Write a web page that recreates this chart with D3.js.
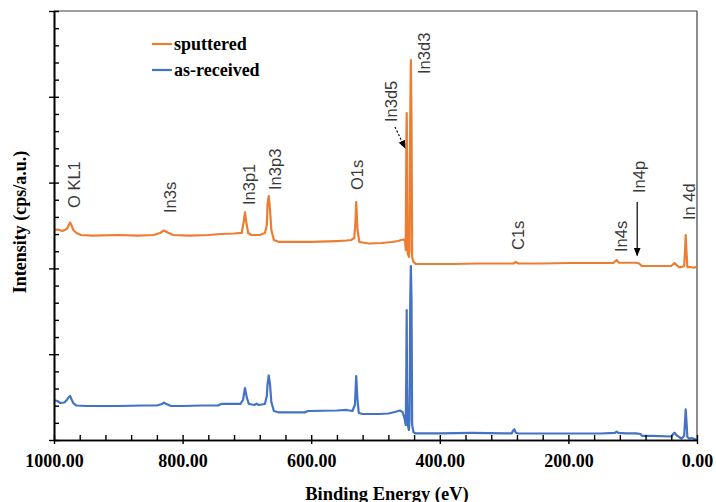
<!DOCTYPE html>
<html><head><meta charset="utf-8">
<script src="https://cdn.jsdelivr.net/npm/d3@7"></script>
<style>body{margin:0;background:#fff}svg{display:block}</style>
</head><body><svg id="c" width="716" height="502"></svg>
<script>
// ---- data (binding energy eV, intensity cps a.u.) ----
const sputtered = [
 [1000,2448],[994,2453],[987,2436],[980,2459],[977,2506],[975,2535],[973,2506],[970,2448],[965,2413],[958,2389],
 [940,2383],[900,2389],[870,2383],[845,2389],[835,2413],[829,2442],[823,2418],[815,2389],[790,2383],[760,2389],
 [740,2401],[720,2407],[708,2413],[705,2541],[703,2652],[701,2541],[698,2413],[693,2389],[680,2389],[672,2413],
 [669,2506],[668,2739],[666,2844],[664,2681],[662,2448],[658,2331],[650,2308],[600,2308],[560,2319],[545,2325],
 [538,2331],[533,2354],[531,2564],[530,2774],[528,2448],[525,2308],[510,2290],[490,2296],[475,2308],[465,2319],
 [460,2331],[456,2337],[454,2319],[453,2214],[452,3497],[451.5,3811],[451,3497],[450,2179],[448,2133],[447,2214],
 [446,3730],[445,4429],[444,3730],[443,2133],[441,2075],[437,2051],[420,2051],[380,2051],[340,2057],[300,2057],
 [285,2057],[282,2075],[278,2057],[240,2057],[200,2063],[160,2063],[130,2063],[125,2098],[122,2066],[110,2066],
 [95,2066],[90,2057],[86,2028],[70,2028],[40,2028],[35,2063],[32,2040],[28,2016],[24,2016],[20,2028],
 [18.5,2214],[17.6,2389],[16.5,2214],[15,2016],[10,2016],[5,2008],[2,2016],[0,2020]
];
const asReceived = [
 [1000,466],[995,455],[990,431],[984,437],[980,466],[977,501],[975,513],[973,478],[970,431],[965,402],
 [950,396],[900,396],[860,402],[840,402],[832,420],[829,435],[825,420],[818,396],[800,396],[770,402],
 [745,402],[740,420],[710,420],[706,466],[703,606],[700,490],[697,420],[688,408],[685,425],[682,408],
 [672,420],[669,513],[668,641],[666,752],[664,641],[662,443],[658,338],[650,321],[610,321],[605,338],
 [560,344],[545,350],[536,338],[532,408],[530,746],[528,466],[526,315],[520,303],[495,303],[480,309],
 [470,326],[462,344],[458,326],[455,256],[453,175],[452.2,699],[451.5,1515],[451,699],[450,175],[448,117],
 [447,233],[446,1632],[445,2028],[444,1632],[443,175],[441,93],[438,78],[400,78],[350,82],[300,78],
 [288,78],[286,111],[284,125],[282,87],[278,76],[200,76],[150,76],[128,82],[125,97],[122,82],
 [110,78],[95,78],[88,70],[85,47],[70,47],[40,41],[37,70],[35,85],[32,58],[28,35],
 [24,17],[20,47],[18.5,233],[17.6,358],[16.5,233],[15,35],[12,17],[8,23],[4,12],[0,0]
];
const seriesNames = ["sputtered", "as-received"];
const seriesColors = ["#ED7D31", "#4472C4"];
const xMajorTicks = [1000, 800, 600, 400, 200, 0];
const xMinorStep = 40;
const yMajorTicks = [0, 1000, 2000, 3000, 4000, 5000];
const yMinorStep = 200;
const peakLabels = ["O KL1", "In3s", "In3p1", "In3p3", "O1s", "In3d5", "In3d3", "C1s", "In4s", "In4p", "In 4d"];
const peakLabelEnergy = [969, 820, 696, 656, 528, 475, 425, 278, 118, 90, 12];
const peakLabelLevel = [2704, 2646, 2739, 2914, 2914, 3706, 4266, 2214, 2191, 2879, 2564];
const arrows = [ {from:[469.7,3648], to:[454,3403], dashed:true}, {from:[93,2774], to:[93,2150], dashed:false} ];
const xTitle = "Binding Energy (eV)";
const yTitle = "Intensity (cps/a.u.)";

// ---- layout ----
const svg = d3.select("#c");
const x = d3.scaleLinear().domain([1000, 0]).range([54, 697]);
const y = d3.scaleLinear().domain([0, 5000]).range([440, 11]);
const serif = "'Liberation Serif','Times New Roman',serif";
const sans = "'Liberation Sans',Arial,sans-serif";

// frame (top, right)
svg.append("line").attr("x1", x(1000)).attr("x2", x(0)).attr("y1", y(5000)).attr("y2", y(5000))
  .attr("stroke", "#404040").attr("stroke-width", 1.2);
svg.append("line").attr("x1", x(0)).attr("x2", x(0)).attr("y1", y(5000)).attr("y2", y(0))
  .attr("stroke", "#404040").attr("stroke-width", 1.2);

// series
const line = d3.line().x(d => x(d[0])).y(d => y(d[1]));
[asReceived, sputtered].forEach((data, i) => {
  const c = i === 0 ? seriesColors[1] : seriesColors[0];
  svg.append("path").datum(data).attr("d", line).attr("fill", "none")
    .attr("stroke", c).attr("stroke-width", 2.2).attr("stroke-linejoin", "round");
});

// axes
const xMinor = d3.range(0, 1000 + 1, xMinorStep);
const yMinor = d3.range(0, 5000 + 1, yMinorStep);
const gx = svg.append("g").attr("transform", `translate(0,${y(0)})`);
gx.append("g").call(d3.axisBottom(x).tickValues(xMinor).tickSize(-5).tickSizeOuter(0).tickFormat(""));
gx.append("g").call(d3.axisBottom(x).tickValues(xMajorTicks).tickSize(4).tickSizeOuter(0).tickPadding(10)
  .tickFormat(d3.format(".2f")));
const gy = svg.append("g").attr("transform", `translate(${x(1000)},0)`);
gy.append("g").call(d3.axisLeft(y).tickValues(yMinor).tickSize(-5).tickSizeOuter(0).tickFormat(""));
gy.append("g").call(d3.axisLeft(y).tickValues(yMajorTicks).tickSize(5).tickSizeOuter(0).tickFormat(""));
svg.selectAll(".domain").attr("stroke", "#000").attr("stroke-width", 1.6);
svg.selectAll(".tick line").attr("stroke", "#000").attr("stroke-width", 1.4);
gx.selectAll(".tick text").attr("font-family", serif).attr("font-weight", "bold")
  .attr("font-size", 18).attr("fill", "#000");

// axis titles
svg.append("text").attr("x", 387).attr("y", 500).attr("text-anchor", "middle")
  .attr("font-family", serif).attr("font-weight", "bold").attr("font-size", 18.5).text(xTitle);
svg.append("text").attr("transform", "translate(20,222) rotate(-90)").attr("text-anchor", "middle")
  .attr("dy", "0.35em").attr("font-family", serif).attr("font-weight", "bold").attr("font-size", 18).text(yTitle);

// peak labels
peakLabels.forEach((t, i) => {
  svg.append("text").attr("transform", `translate(${x(peakLabelEnergy[i])},${y(peakLabelLevel[i])}) rotate(-90)`)
    .attr("dy", "0.35em").attr("font-family", sans).attr("font-size", 16.5).attr("fill", "#3a3a3a").text(t);
});

// arrows
const defs = svg.append("defs");
defs.append("marker").attr("id", "ah").attr("viewBox", "0 0 10 10").attr("refX", 9).attr("refY", 5)
  .attr("markerWidth", 7).attr("markerHeight", 7).attr("orient", "auto")
  .append("path").attr("d", "M0,1L10,5L0,9Z").attr("fill", "#000");
arrows.forEach(a => {
  svg.append("line").attr("x1", x(a.from[0])).attr("y1", y(a.from[1])).attr("x2", x(a.to[0])).attr("y2", y(a.to[1]))
    .attr("stroke", "#000").attr("stroke-width", 1.2).attr("stroke-dasharray", a.dashed ? "2,2" : null)
    .attr("marker-end", "url(#ah)");
});

// legend
const legendY = [44, 70];
seriesNames.forEach((n, i) => {
  svg.append("line").attr("x1", 152).attr("x2", 172).attr("y1", legendY[i]).attr("y2", legendY[i])
    .attr("stroke", seriesColors[i]).attr("stroke-width", 2.2);
  svg.append("text").attr("x", 174).attr("y", legendY[i]).attr("dy", "0.32em")
    .attr("font-family", serif).attr("font-weight", "bold").attr("font-size", 18).text(n);
});
</script></body></html>
